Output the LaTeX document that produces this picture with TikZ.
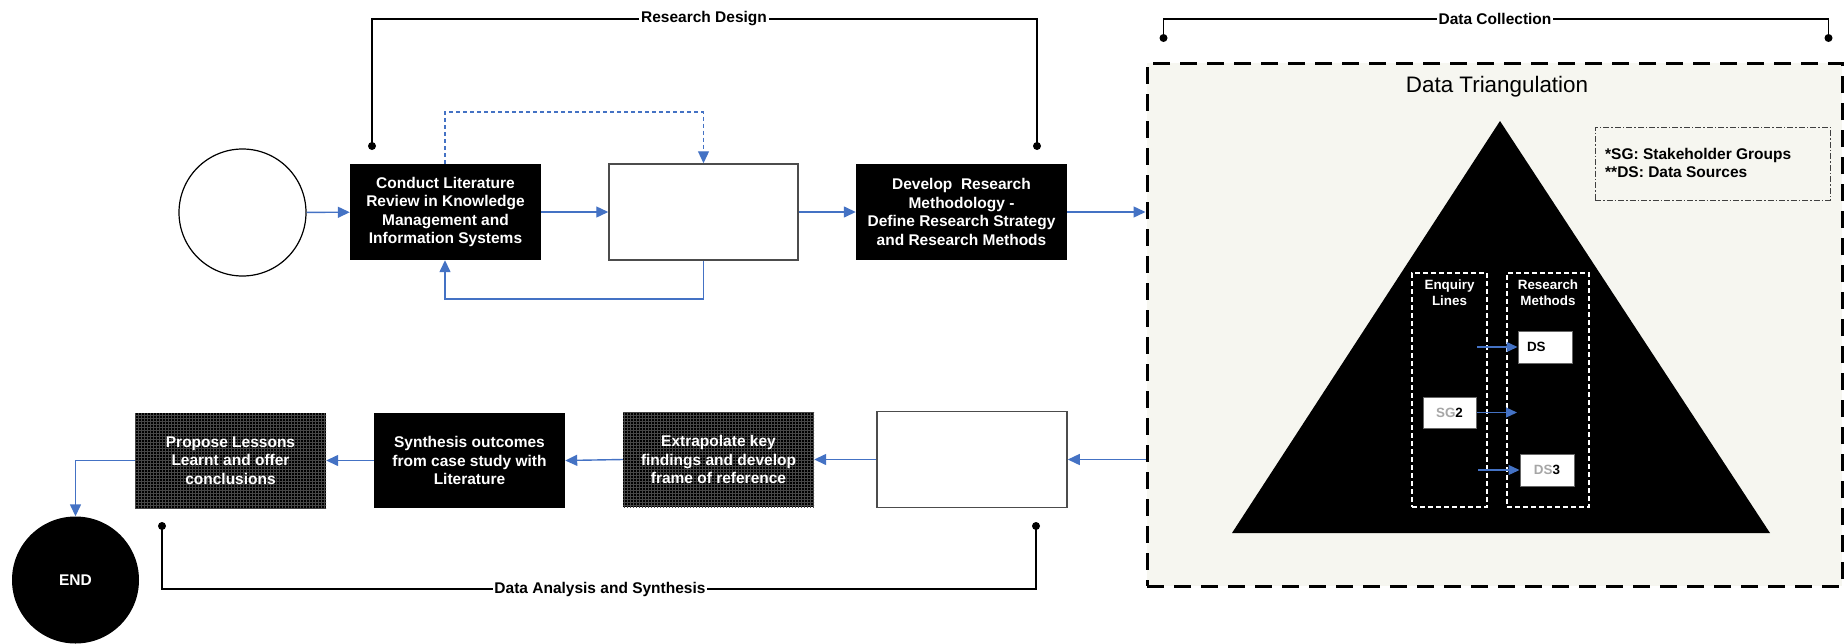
\documentclass[tikz,border=0pt]{standalone}
\usepackage{fontspec}
\setmainfont{Liberation Sans}
\usetikzlibrary{arrows.meta,patterns,calc}
\definecolor{flowblue}{RGB}{68,114,196}
\definecolor{regionfill}{RGB}{246,246,240}
\begin{document}
\begin{tikzpicture}[x=1pt,y=-1pt,
  every node/.style={font=\fontsize{15.5}{18.5}\selectfont\bfseries},
  blackbox/.style={rectangle, fill=black, text=white, align=center, inner sep=0pt,
     minimum width=191pt, minimum height=96pt},
  texbox/.style={blackbox, postaction={pattern=grid, pattern color=black!72}},
  emptybox/.style={rectangle, draw=black!70, line width=1.5pt, fill=white,
     minimum width=190pt, minimum height=96pt},
  flow/.style={draw=flowblue, line width=1.4pt, -{Triangle[length=12pt,width=11pt]}},
  smallflow/.style={draw=flowblue, line width=1.2pt, -{Triangle[length=11pt,width=10pt]}},
  bracket/.style={draw=black, line width=1.2pt},
  dot/.style={circle, fill=black, inner sep=0pt, minimum size=8pt},
  bracketlabel/.style={fill=white, inner sep=1.5pt},
  colbox/.style={rectangle, draw=white, dashed, dash pattern=on 5pt off 3pt, line width=1.2pt,
     minimum width=#1, minimum height=234pt, inner sep=0pt},
  coltext/.style={text=white, align=center, font=\fontsize{13.4}{16}\selectfont\bfseries},
  smallbox/.style={rectangle, draw=black!60, line width=1pt, fill=white, inner sep=0pt,
     minimum width=54pt, minimum height=32pt, font=\fontsize{13.4}{16}\selectfont\bfseries}
]
\useasboundingbox (0,0) rectangle (1848,643);

% ---- top row ----
\node[circle, draw=black, line width=1.2pt, minimum size=127pt, inner sep=0pt] (start) at (242.5,212.5) {};
\node[blackbox] (b1) at (445.5,212) {Conduct Literature\\Review in Knowledge\\Management and\\Information Systems};
\node[emptybox, minimum width=189pt] (b2) at (703.5,212) {};
\node[blackbox, minimum width=211pt] (b3) at (961.5,212) {Develop\ \ Research\\Methodology -\\Define Research Strategy\\and Research Methods};

\draw[flow] (start) -- (b1);
\draw[flow] (b1) -- (b2);
\draw[flow] (b2) -- (b3);
\coordinate (dtop1) at (445,112);
\coordinate (dtop2) at (703.5,112);
\draw[draw=flowblue, line width=1.2pt, dash pattern=on 4pt off 3pt, -{Triangle[length=12pt,width=11pt]}]
  (b1.north -| dtop1) -- (dtop1) -- (dtop2) -- (b2.north);
\coordinate (fb1) at (703.5,299);
\coordinate (fb2) at (445,299);
\draw[flow] (b2.south) -- (fb1) -- (fb2) -- (b1.south -| fb2);

% Research Design bracket
\node[dot] (rdL) at (372,146) {};
\node[dot] (rdR) at (1037,146) {};
\node[bracketlabel] (rdlab) at (704,19) {Research Design};
\draw[bracket] (rdL.center) |- (rdlab.west);
\draw[bracket] (rdR.center) |- (rdlab.east);

% ---- data collection region ----
\node[rectangle, draw=black, line width=3pt, dash pattern=on 17pt off 10pt, fill=regionfill,
  minimum width=695pt, minimum height=523pt, inner sep=0pt] (region) at (1494.5,324.5) {};
\node[font=\fontsize{22.4}{26}\selectfont] (title) at (1497,87) {Data Triangulation};
\fill[black] (1500,121) -- (1770,533) -- (1232,533) -- cycle;

\node[rectangle, draw=black!75, line width=1pt, dash pattern=on 6pt off 2pt on 1.5pt off 2pt,
  minimum width=235pt, minimum height=73pt] (legend) at (1712.5,163.5) {};
\node[anchor=west, align=left, inner sep=0pt] (legtext) at (1605,163)
  {*SG: Stakeholder Groups\\**DS: Data Sources};

\node[colbox=75pt] (enq) at (1449.5,390) {};
\node[colbox=82pt] (rm) at (1548,390) {};
\node[coltext] (enqt) at (1449.5,293) {Enquiry\\Lines};
\node[coltext] (rmt) at (1548,293) {Research\\Methods};

\node[smallbox, text width=36pt, align=left] (ds) at (1545,347) {DS};
\node[smallbox, minimum width=53pt, minimum height=31pt] (sg2) at (1449.5,412.5) {\textcolor{black!35}{SG}2};
\node[smallbox] (ds3) at (1547,470) {\textcolor{black!35}{DS}3};
\coordinate (a1) at (1477,347);
\coordinate (a2) at (1517,412.5);
\coordinate (a3) at (1478,470);
\draw[smallflow] (a1) -- (ds.west);
\draw[smallflow] (sg2.east) -- (a2);
\draw[smallflow] (a3) -- (ds3.west);

\draw[flow] (b3.east) -- (b3.east -| region.west);

% Data Collection bracket
\node[dot] (dcL) at (1163.5,38) {};
\node[dot] (dcR) at (1828.5,38) {};
\node[bracketlabel] (dclab) at (1495,19) {Data Collection};
\draw[bracket] (dcL.center) |- (dclab.west);
\draw[bracket] (dcR.center) |- (dclab.east);

% ---- bottom row ----
\node[emptybox] (e) at (972,459.5) {};
\node[texbox, minimum height=95pt] (xt) at (718.5,459.5) {Extrapolate key\\findings and develop\\frame of reference};
\node[blackbox, minimum height=95pt] (sy) at (469.5,460.5) {Synthesis outcomes\\from case study with\\Literature};
\node[texbox, minimum height=95pt] (pr) at (230.5,460.5) {Propose Lessons\\Learnt and offer\\conclusions};
\node[circle, fill=black, text=white, minimum size=127pt, inner sep=0pt] (endn) at (75.5,580) {END};

\draw[flow] (e.east -| region.west) -- (e.east);
\draw[flow] (e.west) -- (xt.east);
\draw[flow] (xt.west) -- (sy.east);
\draw[flow] (sy.west) -- (pr.east);
\coordinate (pe) at (75.5,460.5);
\draw[flow] (pr.west) -- (pe) -- (endn.north);

% Data Analysis bracket
\node[dot] (daL) at (162,526) {};
\node[dot] (daR) at (1036,526) {};
\node[bracketlabel] (dalab) at (600,589) {Data Analysis and Synthesis};
\draw[bracket] (daL.center) |- (dalab.west);
\draw[bracket] (daR.center) |- (dalab.east);
\end{tikzpicture}
\end{document}
